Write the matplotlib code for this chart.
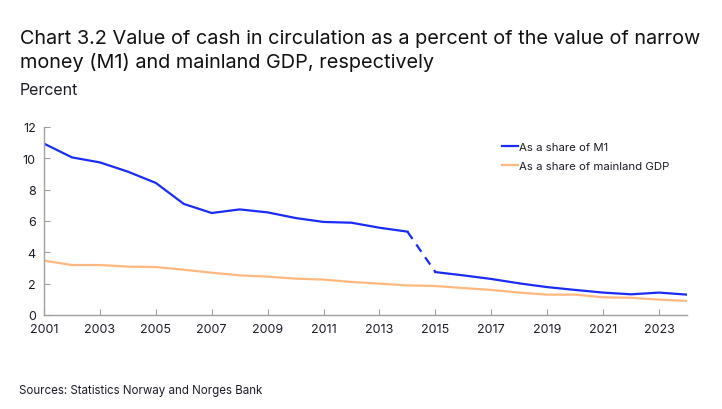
import matplotlib
matplotlib.use("Agg")
import matplotlib.pyplot as plt
import numpy as np

plt.rcParams['font.family'] = ['Inter', 'DejaVu Sans']

years = list(range(2001, 2025))
share_m1 = [10.94, 10.06, 9.74, 9.15, 8.43, 7.09, 6.51, 6.74, 6.55, 6.19, 5.94, 5.89, 5.57, 5.32,
            2.74, 2.53, 2.30, 2.02, 1.78, 1.60, 1.43, 1.32, 1.43, 1.30]
share_gdp = [3.47, 3.19, 3.19, 3.09, 3.06, 2.89, 2.70, 2.53, 2.45, 2.32, 2.26, 2.11, 2.00, 1.89,
             1.85, 1.72, 1.60, 1.43, 1.30, 1.30, 1.13, 1.10, 0.98, 0.90]
break_year = 2014
xtick_labels = [str(y) for y in range(2001, 2025, 2)]
yticks = [0, 2, 4, 6, 8, 10, 12]

title = "Chart 3.2 Value of cash in circulation as a percent of the value of narrow\nmoney (M1) and mainland GDP, respectively"
unit = "Percent"
source = "Sources: Statistics Norway and Norges Bank"

blue = "#1a2cf5"
orange = "#ffb980"
grey = "#a0a0a0"
text_col = "#1c1c28"

fig = plt.figure(figsize=(7.22, 4.10), dpi=100)
ax = fig.add_axes([44/722, 1-316/410, (687-44)/722, (316-128)/410])

yrs = np.array(years)
m1 = np.array(share_m1)
gdp = np.array(share_gdp)
bi = years.index(break_year)

ax.plot(yrs[:bi+1], m1[:bi+1], color=blue, lw=1.6, label="As a share of M1")
ax.plot(yrs[bi:bi+2], m1[bi:bi+2], color=blue, lw=1.6, ls=(0, (4, 3)))
ax.plot(yrs[bi+1:], m1[bi+1:], color=blue, lw=1.6)
ax.plot(yrs, gdp, color=orange, lw=1.6, label="As a share of mainland GDP")

ax.set_xlim(2001, 2024)
ax.set_ylim(0, 12)
ax.set_xticks([int(s) for s in xtick_labels])
ax.set_xticklabels(xtick_labels)
ax.set_yticks(yticks)
ax.set_yticklabels([str(v) for v in yticks])

for s in ['top', 'right']:
    ax.spines[s].set_visible(False)
for s in ['left', 'bottom']:
    ax.spines[s].set_color(grey)
    ax.spines[s].set_linewidth(1.0)
ax.tick_params(axis='both', direction='in', length=4, color=grey, labelsize=9, labelcolor=text_col)
ax.tick_params(axis='x', pad=6)
ax.tick_params(axis='y', pad=6)

leg = ax.legend(loc='upper left', bbox_to_anchor=((497-44)/643, 1-(138-128)/188), frameon=False,
                fontsize=8.2, handlelength=1.4, handletextpad=0.15, labelspacing=0.85, borderaxespad=0)
for t in leg.get_texts():
    t.set_color(text_col)

fig.text(20/722, 1-68/410, title, fontsize=14.3, color="#111111", va='baseline', ha='left', linespacing=1.3)
fig.text(20/722, 1-95/410, unit, fontsize=11.5, color=text_col, va='baseline', ha='left')
fig.text(19/722, 1-394/410, source, fontsize=8.3, color=text_col, va='baseline', ha='left')

fig.savefig("out.png", dpi=100)
